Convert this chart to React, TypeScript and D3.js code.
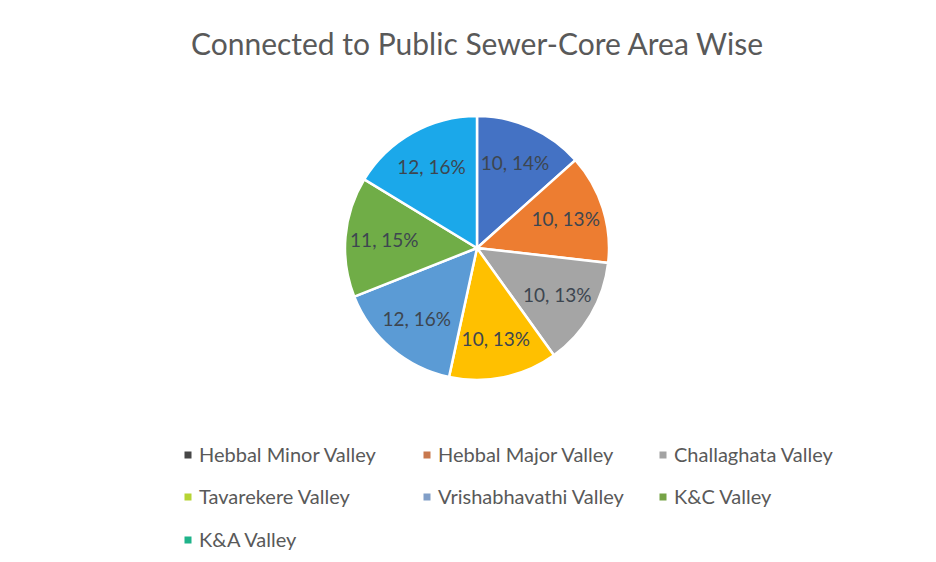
import * as d3 from 'd3';

const title = 'Connected to Public Sewer-Core Area Wise';

// slices, clockwise from 12 o'clock
const sliceValues = [13.4, 13.4, 13.3, 13.3, 15.6, 14.7, 16.3];
const sliceLabels = ['10, 14%', '10, 13%', '10, 13%', '10, 13%', '12, 16%', '11, 15%', '12, 16%'];
const sliceColors = ['#4472C4', '#ED7D31', '#A5A5A5', '#FFC000', '#5B9BD5', '#70AD47', '#1BA8EA'];

// legend entries (as drawn in the source chart)
const legendNames = [
  'Hebbal Minor Valley', 'Hebbal Major Valley', 'Challaghata Valley',
  'Tavarekere Valley', 'Vrishabhavathi Valley', 'K&C Valley', 'K&A Valley',
];
const legendColors = ['#474747', '#C8784E', '#A3A3A3', '#B6D434', '#819FC8', '#76A346', '#1FB38A'];

export default function App() {
  const width = 936;
  const height = 562;
  const cx = 477;
  const cy = 248;
  const radius = 132;

  const pie = d3.pie<number>().sort(null).value((d) => d);
  const arcs = pie(sliceValues);
  const arc = d3.arc<d3.PieArcDatum<number>>().innerRadius(0).outerRadius(radius);
  const labelArc = d3.arc<d3.PieArcDatum<number>>().innerRadius(93).outerRadius(93);

  const colX = [188, 427, 663];
  const rowY = [455, 497, 540];

  return (
    <svg width={width} height={height} style={{ position: 'absolute', left: 0, top: 0, background: '#fff' }}
      fontFamily="Lato, 'Open Sans', sans-serif">
      <text x={cx} y={55} textAnchor="middle" fontSize={30} fill="#595959">{title}</text>
      <g transform={`translate(${cx},${cy})`}>
        {arcs.map((a, i) => (
          <path key={i} d={arc(a)!} fill={sliceColors[i]} stroke="#fff" strokeWidth={2.5} />
        ))}
        {arcs.map((a, i) => {
          const [x, y] = labelArc.centroid(a);
          return (
            <text key={i} x={x} y={y} dy="0.35em" textAnchor="middle" fontSize={19} fill="#3d4650">
              {sliceLabels[i]}
            </text>
          );
        })}
      </g>
      <g>
        {legendNames.map((name, i) => {
          const x = colX[i % 3];
          const y = rowY[Math.floor(i / 3)];
          return (
            <g key={name}>
              <rect x={x - 3.5} y={y - 3.5} width={7} height={7} fill={legendColors[i]} />
              <text x={x + 11} y={y} dy="0.35em" fontSize={20} fill="#595959">{name}</text>
            </g>
          );
        })}
      </g>
    </svg>
  );
}
